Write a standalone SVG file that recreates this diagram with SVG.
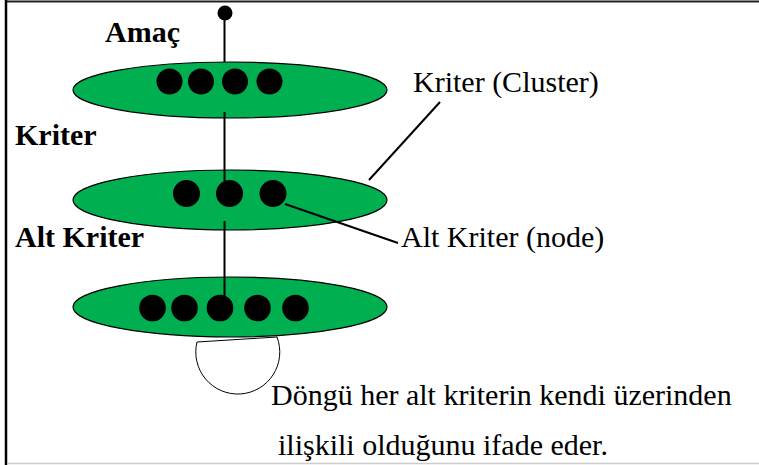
<svg xmlns="http://www.w3.org/2000/svg" width="759" height="465" viewBox="0 0 759 465">
<style>
.ell{fill:#00B050;stroke:#000;stroke-width:1.2}
.dot{fill:#000}
.ln{stroke:#000;stroke-width:2;fill:none}
.b{font-family:"Liberation Serif",serif;font-weight:bold;font-size:30px;fill:#000}
.t{font-family:"Liberation Serif",serif;font-size:30px;fill:#000}
</style>
<rect width="759" height="465" fill="#fff"/>
<g id="frame">
<line x1="6" y1="1.5" x2="759" y2="1.5" stroke="#222" stroke-width="2"/>
<line x1="6" y1="0" x2="6" y2="465" stroke="#000" stroke-width="2.5"/>
<line x1="7" y1="463.5" x2="759" y2="463.5" stroke="#ccc" stroke-width="1.5"/>
</g>
<g id="loop">
<path d="M197,342 A42,42 0 1 0 277,337 Z" fill="#fff" stroke="#000" stroke-width="1"/>
</g>
<g id="goal">
<circle cx="225" cy="13" r="7.5"/>
<text class="b" x="105" y="42">Amaç</text>
</g>
<g id="cluster1">
<ellipse class="ell" cx="230" cy="90" rx="157" ry="28"/>
<circle class="dot" cx="169.5" cy="81.5" r="13"/>
<circle class="dot" cx="201" cy="81.5" r="13"/>
<circle class="dot" cx="235" cy="81.5" r="13"/>
<circle class="dot" cx="269.5" cy="81.5" r="13"/>
</g>
<g id="cluster2">
<ellipse class="ell" cx="230" cy="200" rx="157" ry="30"/>
<circle class="dot" cx="186.5" cy="193.5" r="13.5"/>
<circle class="dot" cx="229.5" cy="193.5" r="13.5"/>
<circle class="dot" cx="273" cy="193.5" r="13.5"/>
</g>
<g id="cluster3">
<ellipse class="ell" cx="230" cy="307" rx="157" ry="30"/>
<circle class="dot" cx="152.5" cy="308" r="13.3"/>
<circle class="dot" cx="184.5" cy="308" r="13.3"/>
<circle class="dot" cx="220" cy="308" r="13.3"/>
<circle class="dot" cx="257.5" cy="308" r="13.3"/>
<circle class="dot" cx="295.5" cy="308" r="13.3"/>
</g>
<g id="connectors">
<line class="ln" x1="224.5" y1="14" x2="224.5" y2="62"/>
<line class="ln" x1="224.5" y1="112" x2="224.5" y2="181"/>
<line class="ln" x1="224.5" y1="221" x2="224.5" y2="296"/>
<line class="ln" x1="440" y1="102" x2="369" y2="180"/>
<line class="ln" x1="285" y1="204" x2="398" y2="243"/>
</g>
<g id="labels">
<text class="b" x="15" y="145">Kriter</text>
<text class="b" x="15" y="247">Alt Kriter</text>
<text class="t" x="413" y="92">Kriter (Cluster)</text>
<text class="t" x="401" y="247">Alt Kriter (node)</text>
<text class="t" x="271" y="405">Döngü her alt kriterin kendi üzerinden</text>
<text class="t" x="278" y="455">ilişkili olduğunu ifade eder.</text>
</g>
</svg>
